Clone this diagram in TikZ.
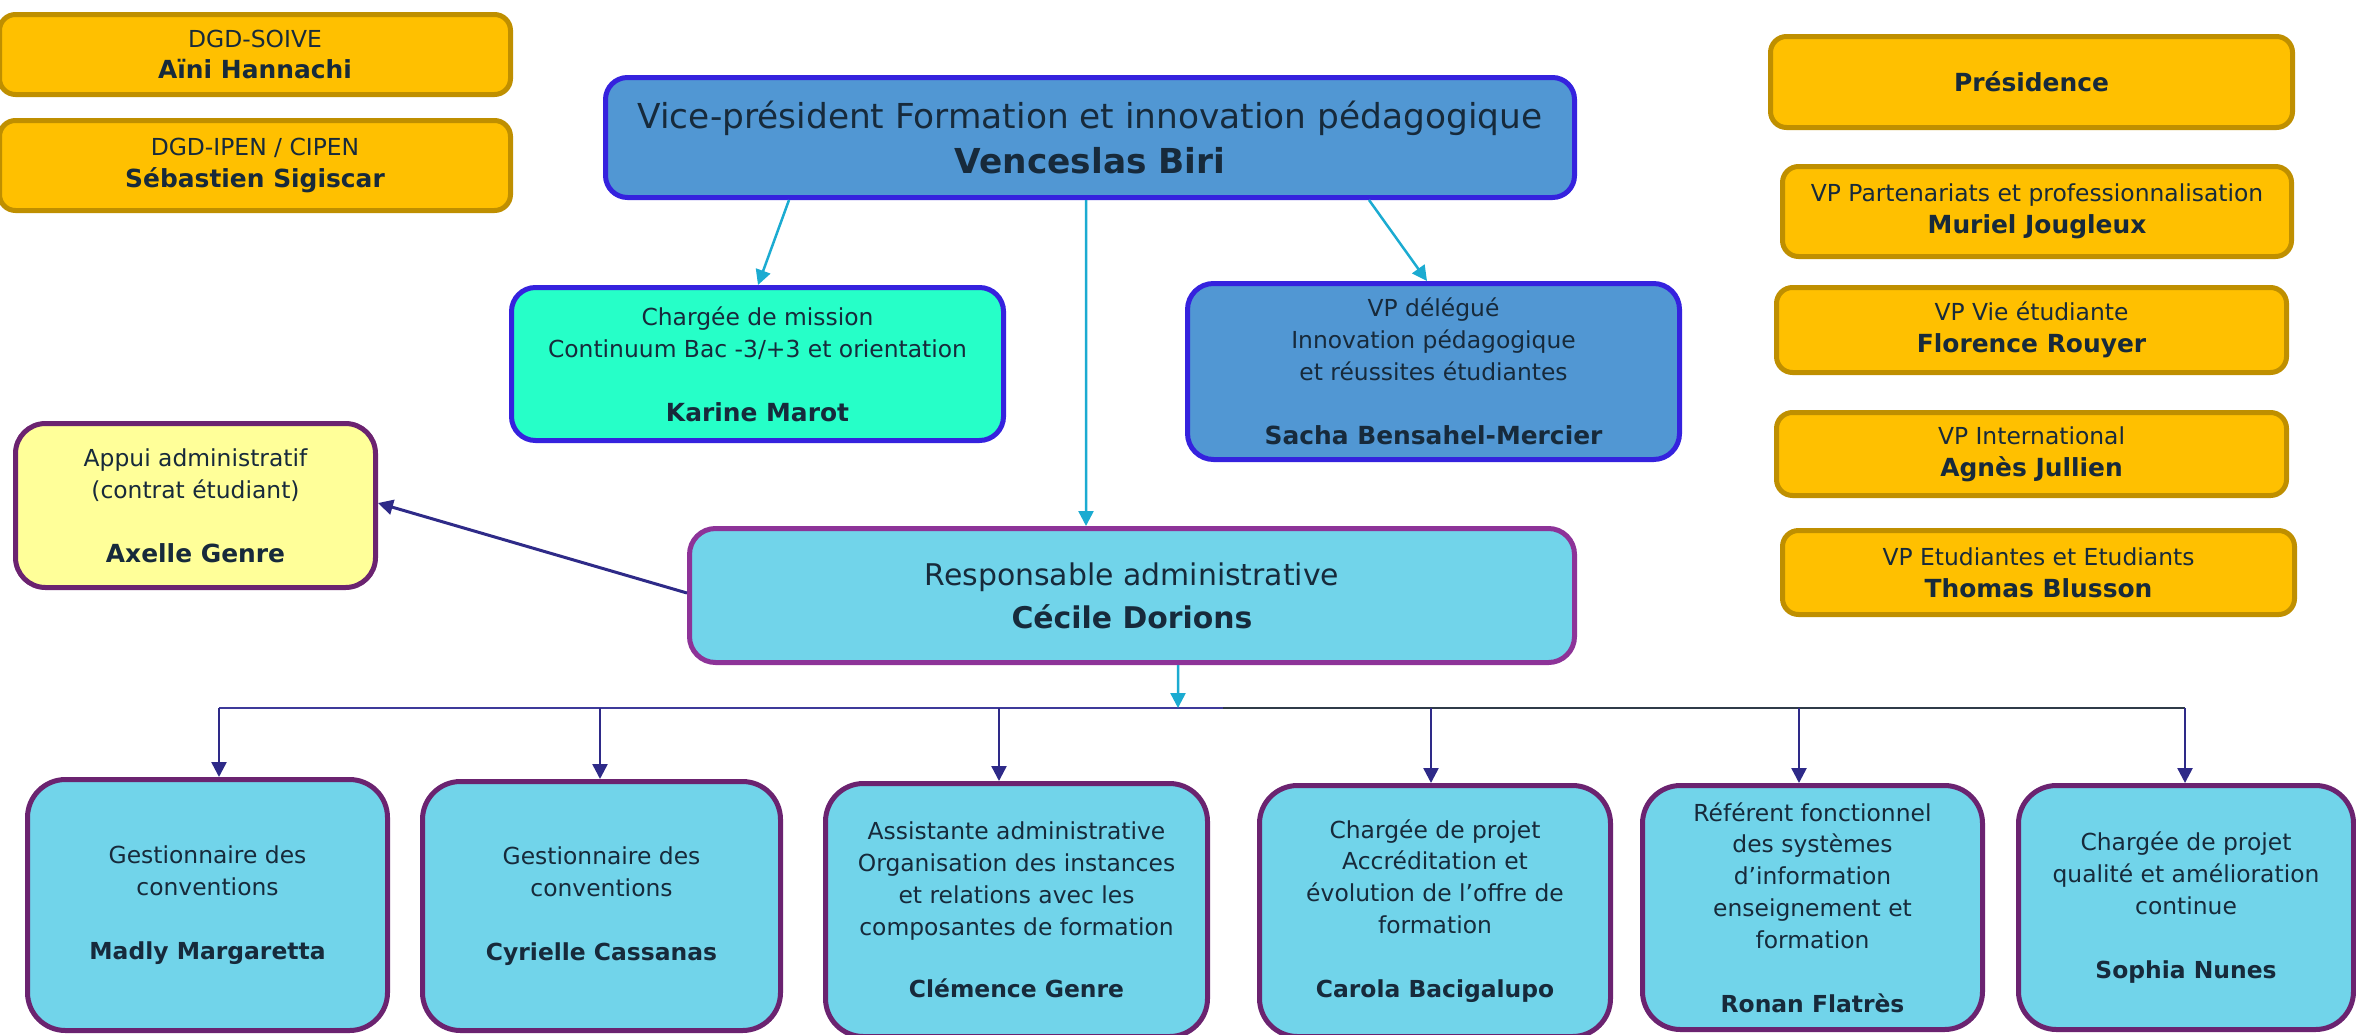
\documentclass[tikz,border=0pt]{standalone}
\usepackage{fontspec}
\setmainfont{DejaVu Sans}
\usetikzlibrary{arrows.meta,calc}
\definecolor{orfill}{HTML}{FFC000}
\definecolor{ordraw}{HTML}{BF8F00}
\definecolor{vpfill}{HTML}{5197D3}
\definecolor{vpdraw}{HTML}{3522DE}
\definecolor{aqfill}{HTML}{26FFC8}
\definecolor{cyfill}{HTML}{71D4EA}
\definecolor{purdraw}{HTML}{6B2370}
\definecolor{magdraw}{HTML}{8D3398}
\definecolor{yelfill}{HTML}{FFFF99}
\definecolor{txt}{HTML}{172A3B}
\definecolor{cyline}{HTML}{1BABD1}
\definecolor{navline}{HTML}{2E2A88}
\definecolor{busnav}{HTML}{3D3A9A}
\definecolor{busgray}{HTML}{2F3B48}
\newcommand\pname[1]{{\bfseries\fontsize{25}{32}\selectfont #1}}
\newcommand\qname[1]{{\bfseries\fontsize{23.5}{32}\selectfont #1}}
\tikzset{
  box/.style={anchor=north west, draw, line width=5bp, align=center, text=txt,
    inner sep=0pt, font=\fontsize{23.5}{32}\selectfont},
  wh/.style 2 args={minimum width=#1bp, minimum height=#2bp},
  orbox/.style={box, fill=orfill, draw=ordraw, rounded corners=16bp},
  vpbox/.style={box, fill=vpfill, draw=vpdraw, rounded corners=22bp},
  aqbox/.style={box, fill=aqfill, draw=vpdraw, rounded corners=24bp},
  yelbox/.style={box, fill=yelfill, draw=purdraw, rounded corners=30bp},
  cecbox/.style={box, fill=cyfill, draw=magdraw, rounded corners=26bp},
  botbox/.style={box, fill=cyfill, draw=purdraw, rounded corners=38bp},
  cyarr/.style={draw=cyline, line width=2.5bp, -{Triangle[length=15bp,width=15bp]}},
  navarr/.style={draw=navline, line width=2.5bp, -{Triangle[length=15bp,width=15bp]}},
}
\begin{document}
\begin{tikzpicture}[x=1bp,y=-1bp]
\useasboundingbox (0,0) rectangle (2356,1034);

% top-left orange boxes
\node[orbox, wh={511}{80}] (soive) at (-3,12) {DGD-SOIVE\\\pname{Aïni Hannachi}};
\node[orbox, wh={511}{90}] (ipen) at (-3,118) {DGD-IPEN / CIPEN\\\pname{Sébastien Sigiscar}};

% right column
\node[orbox, wh={522}{91}] (pres) at (1768,34) {\pname{Présidence}};
\node[orbox, wh={509}{90}] (muriel) at (1780,164) {VP Partenariats et professionnalisation\\\pname{Muriel Jougleux}};
\node[orbox, wh={510}{85}] (florence) at (1774,285) {VP Vie étudiante\\\pname{Florence Rouyer}};
\node[orbox, wh={510}{83}] (agnes) at (1774,410) {VP International\\\pname{Agnès Jullien}};
\node[orbox, wh={512}{84}] (thomas) at (1780,528) {VP Etudiantes et Etudiants\\\pname{Thomas Blusson}};

% VP
\node[vpbox, wh={969}{120}, font=\fontsize{34.5}{45}\selectfont] (vp) at (603,75)
  {Vice-président Formation et innovation pédagogique\\\textbf{Venceslas Biri}};
\node[aqbox, wh={492}{153}] (karine) at (509,285)
  {Chargée de mission\\Continuum Bac -3/+3 et orientation\\[32bp]\pname{Karine Marot}};
\node[vpbox, rounded corners=26bp, wh={492}{176}] (sacha) at (1185,281)
  {VP délégué\\Innovation pédagogique\\et réussites étudiantes\\[32bp]\pname{Sacha Bensahel-Mercier}};

% Appui and Cécile
\node[yelbox, wh={360}{164}] (appui) at (13,421)
  {Appui administratif\\(contrat étudiant)\\[32bp]\pname{Axelle Genre}};
\node[cecbox, wh={885}{134}, font=\fontsize{30}{43}\selectfont] (cecile) at (687,526)
  {Responsable administrative\\\textbf{Cécile Dorions}};

% bottom row
\node[botbox, wh={360}{251}] (madly) at (25,777)
  {Gestionnaire des\\conventions\\[32bp]\qname{Madly Margaretta}};
\node[botbox, wh={358}{249}] (cyrielle) at (420,779)
  {Gestionnaire des\\conventions\\[32bp]\qname{Cyrielle Cassanas}};
\node[botbox, wh={382}{253}] (clemence) at (823,781)
  {Assistante administrative\\Organisation des instances\\et relations avec les\\composantes de formation\\[30bp]\qname{Clémence Genre}};
\node[botbox, wh={351}{251}] (carola) at (1257,783)
  {Chargée de projet\\Accréditation et\\évolution de l’offre de\\formation\\[32bp]\qname{Carola Bacigalupo}};
\node[botbox, wh={340}{244}] (ronan) at (1640,783)
  {Référent fonctionnel\\des systèmes\\d’information\\enseignement et\\formation\\[32bp]\qname{Ronan Flatrès}};
\node[botbox, wh={335}{244}] (sophia) at (2016,783)
  {Chargée de projet\\qualité et amélioration\\continue\\[32bp]\qname{Sophia Nunes}};

% connectors from VP
\draw[cyarr] ([xshift=186bp]vp.south west) -- ([xshift=249bp]karine.north west);
\draw[cyarr] ([xshift=766bp]vp.south west) -- ([xshift=242bp]sacha.north west);
\draw[cyarr] ([xshift=483bp]vp.south west) -- ([xshift=399bp]cecile.north west);

% Cécile to Appui
\draw[navarr, line width=3bp] ([yshift=-67bp]cecile.north west) -- ([yshift=-82bp]appui.north east);

% bus
\coordinate (busmid) at (1178,708);
\coordinate (bsplit) at (1223,708);
\coordinate (b1) at (219,708);
\coordinate (b2) at (600,708);
\coordinate (b3) at (999,708);
\coordinate (b4) at (1431,708);
\coordinate (b5) at (1799,708);
\coordinate (b6) at (2185,708);
\draw[busnav, line width=2.5bp] (b1) -- (bsplit);
\draw[busgray, line width=2.5bp] (bsplit) -- (b6);
\draw[cyarr] ([xshift=491bp]cecile.south west) -- (busmid);

\draw[navarr] (b1) -- (b1 |- madly.north);
\draw[navarr] (b2) -- (b2 |- cyrielle.north);
\draw[navarr] (b3) -- (b3 |- clemence.north);
\draw[navarr] (b4) -- (b4 |- carola.north);
\draw[navarr] (b5) -- (b5 |- ronan.north);
\draw[navarr] (b6) -- (b6 |- sophia.north);
\end{tikzpicture}
\end{document}
